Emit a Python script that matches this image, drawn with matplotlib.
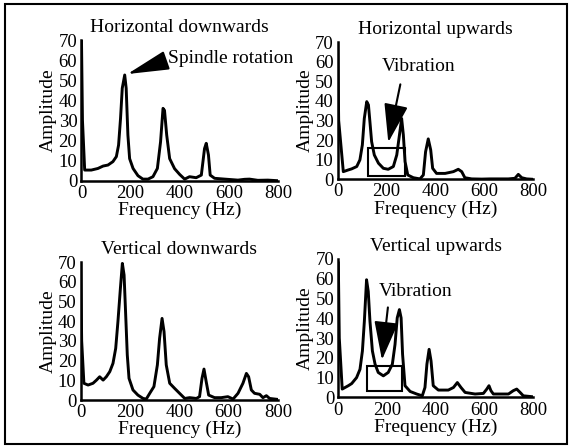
import matplotlib
matplotlib.use("Agg")
import matplotlib.pyplot as plt
from matplotlib.patches import Rectangle, FancyArrowPatch

plt.rcParams['font.family'] = ['Liberation Serif', 'DejaVu Serif']
plt.rcParams['font.size'] = 14

# Horizontal downwards spectrum
hd_freq = [0, 4, 13, 40, 67, 88, 108, 128, 142, 151, 159, 166, 176, 182, 189,
           196, 210, 230, 250, 271, 291, 309, 322, 332, 338, 347, 359, 379,
           400, 420, 440, 467, 488, 501, 508, 517, 524, 542, 583, 637, 664,
           684, 718, 759, 800]
hd_amp = [70, 30, 5.3, 5.3, 6.1, 7.3, 7.8, 9.5, 12, 17.7, 31, 46, 52.6, 46, 22.7,
          11, 6.1, 2.5, 0.8, 0.8, 2, 6.1, 19.4, 36, 35, 22.7, 11, 6,
          3.1, 0.8, 2, 1.5, 2.8, 16, 18.6, 12.8, 2.8, 1.2, 0.8, 0.3, 0.7,
          0.8, 0.2, 0.3, 0]

# Horizontal upwards spectrum
hu_freq = [0, 4, 23, 44, 57, 78, 91, 101, 109, 119, 126, 132, 139, 150, 167,
           187, 207, 228, 242, 253, 262, 269, 276, 287, 310, 337, 351, 360,
           371, 381, 389, 405, 440, 474, 494, 508, 521, 549, 590, 624, 672,
           699, 726, 740, 754, 774, 800]
hu_amp = [70, 30, 3.9, 4.8, 5.3, 6.5, 9.9, 17.5, 31, 39.6, 37.9, 29.4, 19.2, 12.4, 8.2,
          5.6, 5.1, 6.5, 12.4, 22.6, 31, 22.6, 9, 2.2, 0.8, 0.2, 2.2, 14,
          20.6, 15, 5.6, 3, 3, 3.9, 5.1, 3.9, 0.8, 0.2, 0.1, 0.2, 0.2,
          0.2, 0.5, 2.5, 0.8, 0.2, 0]

# Vertical downwards spectrum
vd_freq = [0, 4, 13, 30, 50, 64, 77, 91, 104, 118, 131, 142, 151, 161, 169,
           176, 182, 189, 196, 212, 232, 253, 266, 280, 297, 311, 320, 330,
           338, 347, 361, 381, 401, 422, 442, 469, 482, 492, 500, 509, 519,
           543, 570, 597, 618, 638, 658, 672, 681, 692, 705, 726, 739, 753,
           766, 800]
vd_amp = [70, 30, 8.5, 7.6, 8.5, 10.1, 11.8, 10.1, 11.8, 14.4, 18.6, 26.2, 39.7, 56.6, 69.3,
          63.4, 44.8, 22.8, 11, 5.1, 2.5, 0.8, 0.5, 3.4, 6.8, 17.8, 31.3, 41.4,
          34.7, 17.8, 8.5, 5.9, 3.4, 0.8, 1.2, 0.8, 1.7, 11, 15.7, 9.3, 2.5,
          1.2, 1.2, 1.7, 0.5, 3.4, 8.5, 13.5, 11.8, 5.1, 3.4, 2.9, 1.2, 2.2,
          0.8, 0.3]

# Vertical upwards spectrum
vu_freq = [0, 4, 16, 41, 55, 75, 89, 99, 107, 116, 123, 130, 140, 151, 164,
           185, 205, 222, 233, 242, 251, 258, 264, 274, 295, 322, 345, 356,
           364, 373, 381, 390, 411, 452, 473, 489, 504, 521, 562, 596, 610,
           619, 627, 637, 699, 719, 733, 747, 760, 800]
vu_amp = [68, 30, 4.2, 5.9, 7, 10, 14.2, 23.5, 38.5, 59.5, 53.6, 38.5, 23.5, 16.8, 12.6,
          10.9, 12.6, 16.8, 26.8, 40.2, 44.4, 40.2, 21.8, 5.9, 3, 1.7, 0.8, 5,
          16.8, 24.3, 18.4, 5.9, 3.7, 3.7, 5, 7.5, 5, 2.5, 1.7, 2, 4.2,
          5.9, 3.4, 1.7, 1.7, 3.4, 4.2, 2.5, 0.8, 0.3]

titles = ["Horizontal downwards", "Horizontal upwards",
          "Vertical downwards", "Vertical upwards"]
x_ticks = [0, 200, 400, 600, 800]
y_ticks = [0, 10, 20, 30, 40, 50, 60, 70]

fig = plt.figure(figsize=(5.71, 4.47), dpi=100)

# axes positions [left, bottom, width, height] in figure fraction
positions = [
    [0.1427, 0.5957, 0.3441, 0.3148],
    [0.5914, 0.5989, 0.3420, 0.3071],
    [0.1413, 0.1051, 0.3455, 0.3087],
    [0.5925, 0.1110, 0.3410, 0.3096],
]
series = [(hd_freq, hd_amp), (hu_freq, hu_amp), (vd_freq, vd_amp), (vu_freq, vu_amp)]

axes = []
for pos, (fx, fy), title in zip(positions, series, titles):
    ax = fig.add_axes(pos)
    ax.plot(fx, fy, color='black', lw=2.1, solid_joinstyle='round')
    ax.set_xlim(0, 800)
    ax.set_ylim(0, 70)
    ax.set_xticks(x_ticks)
    ax.set_yticks(y_ticks)
    ax.tick_params(length=0, labelsize=13.5)
    ax.tick_params(axis='x', pad=3)
    ax.tick_params(axis='y', pad=3)
    for s in ['top', 'right']:
        ax.spines[s].set_visible(False)
    for s in ['left', 'bottom']:
        ax.spines[s].set_linewidth(1.8)
    ax.set_title(title, pad=6, fontsize=14)
    ax.set_xlabel('Frequency (Hz)', labelpad=0, fontsize=14)
    ax.set_ylabel('Amplitude', labelpad=1, fontsize=14)
    axes.append(ax)

# Spindle rotation annotation
ax = axes[0]
ax.text(352, 60.9, 'Spindle rotation', ha='left', va='center', clip_on=False)
ax.add_patch(FancyArrowPatch((349, 60), (176, 52.6), mutation_scale=1,
                             arrowstyle='-|>,head_length=26,head_width=6',
                             color='black', lw=1.5, clip_on=False))

# Vibration boxes and arrows
boxes = [(axes[1], 123, 276, 1.7, 15.8, (259, 49.8), (205, 17.5), (330, 57.4)),
         (axes[3], 116, 260, 3.0, 15.9, (205, 46.9), (178, 17.6), (319, 53.6))]
for ax, x0, x1, y0, y1, tail, tip, txt in boxes:
    ax.add_patch(Rectangle((x0, y0), x1 - x0, y1 - y0, fill=False,
                           edgecolor='black', lw=1.5))
    ax.add_patch(FancyArrowPatch(tail, tip, mutation_scale=1,
                                 arrowstyle='-|>,head_length=24,head_width=7.5',
                                 color='black', lw=1.5))
    ax.text(txt[0], txt[1], 'Vibration', ha='center', va='center')

# outer frame
fig.patches.append(Rectangle((0.009, 0.006), 0.984, 0.984, transform=fig.transFigure,
                             fill=False, edgecolor='black', lw=1.5))

fig.savefig('out.png', dpi=100)
